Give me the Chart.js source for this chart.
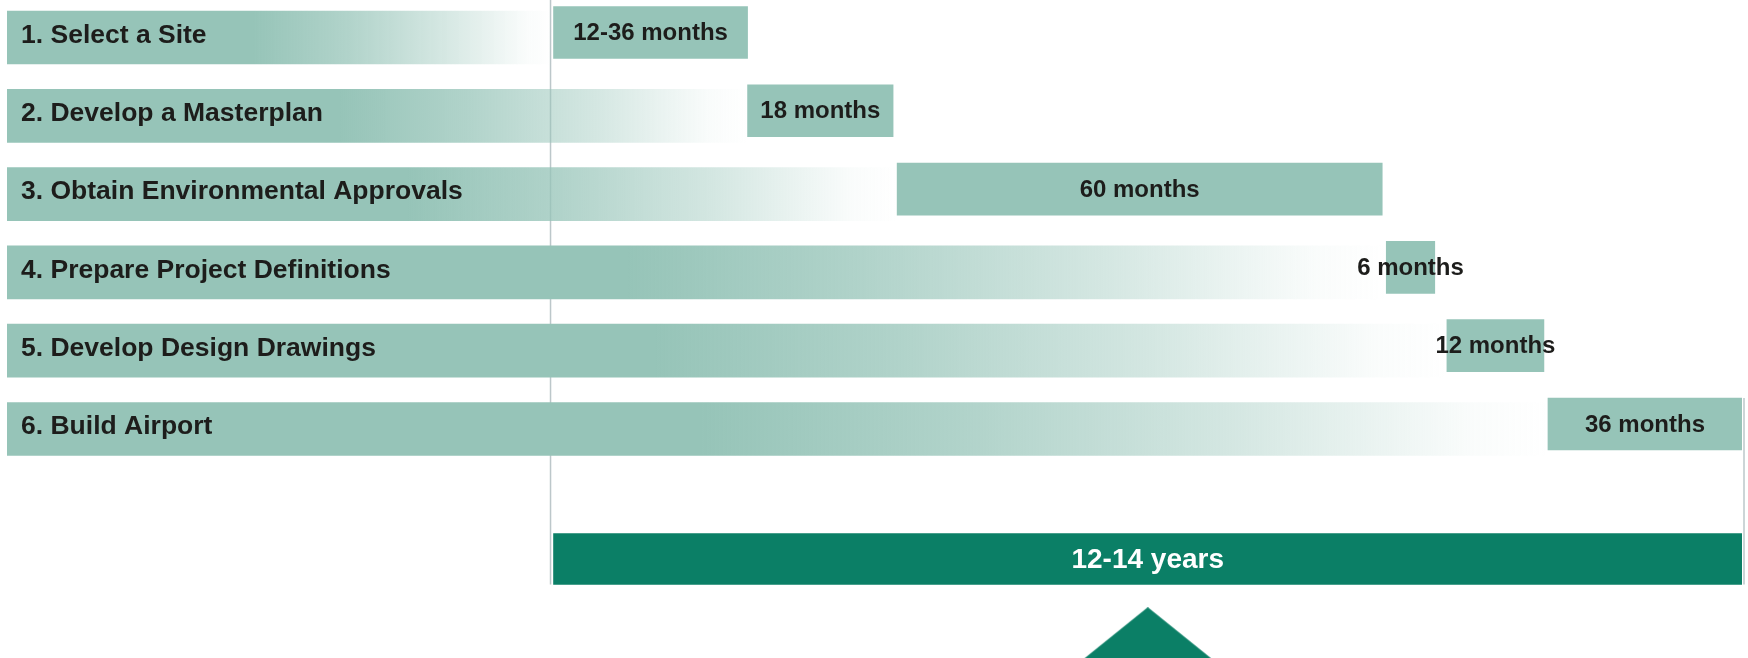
<!DOCTYPE html>
<html lang="en"><head>
<title>Airport Development Timeline</title>
<meta name="viewport" content="width=device-width, initial-scale=1.0">
<meta charset="utf-8">
<style type="text/css">
body     { margin:0; background-color:#ffffff; }
#display { width:1748px; height:658px; }
</style>
<script src="https://cdn.jsdelivr.net/npm/chart.js"></script>
<script>

// phases of the project and how long each one takes
const phases=['1. Select a Site','2. Develop a Masterplan','3. Obtain Environmental Approvals',
  '4. Prepare Project Definitions','5. Develop Design Drawings','6. Build Airport'];
const durationLabels=['12-36 months','18 months','60 months','6 months','12 months','36 months'];
const durationMonths=[24,18,60,6,12,36];           // 12-36 months drawn as 24
const startMonths=[0,24,42.5,103,110.5,123];
const totalLabel='12-14 years';
const totalMonths=156;                             // 13 years

// visible window (months) and row layout
const xStart=-67.6, xEnd=147;
const yMin=-0.479, yMax=7.925, boxLift=0.064, totalRow=6.66;

const light='#96c4b8', dark='#0b7f66', ink='#1d1d1b', rule='#bcc7ca';

function leadGradient(c) {
  const chart=c.chart;
  if (!chart.chartArea) { return light; }
  const x=chart.scales.x;
  const x0=x.getPixelForValue(xStart), x1=x.getPixelForValue(startMonths[c.dataIndex]);
  const g=chart.ctx.createLinearGradient(x0,0,x1,0);
  g.addColorStop(0,'rgba(150,196,184,1)');
  g.addColorStop(0.45,'rgba(150,196,184,1)');
  g.addColorStop(0.62,'rgba(150,196,184,0.75)');
  g.addColorStop(0.8,'rgba(150,196,184,0.4)');
  g.addColorStop(0.95,'rgba(150,196,184,0.05)');
  g.addColorStop(1,'rgba(150,196,184,0)');
  return g; }

function triangleImage() {
  const c=document.createElement('canvas'); c.width=248; c.height=100;
  const t=c.getContext('2d'); t.fillStyle=dark;
  t.beginPath(); t.moveTo(124,0); t.lineTo(248,100); t.lineTo(0,100); t.closePath(); t.fill();
  return c; }

// text inside the bars, centred on the visible part of each bar
const barText={id:'barText',afterDatasetsDraw(chart) {
  const ctx=chart.ctx, area=chart.chartArea;
  ctx.save(); ctx.textBaseline='middle';
  chart.data.datasets.forEach((ds,d)=>{
    if (!ds.texts) { return; }
    chart.getDatasetMeta(d).data.forEach((bar,i)=>{
      const p=bar.getProps(['x','y','base'],true);
      const l=Math.max(Math.min(p.x,p.base),area.left), r=Math.min(Math.max(p.x,p.base),area.right);
      ctx.font=ds.textFont; ctx.fillStyle=ds.textColor;
      if (ds.textLeft) { ctx.textAlign='left'; ctx.fillText(ds.texts[i],l+14,p.y-2); }
      else { ctx.textAlign='center'; ctx.fillText(ds.texts[i],(l+r)/2,p.y+1); } }); });
  ctx.restore(); }};

// thin rules marking the start and the end of the timeline
const timelineRules={id:'timelineRules',beforeDatasetsDraw(chart) {
  const ctx=chart.ctx, area=chart.chartArea;
  const total=chart.getDatasetMeta(2).data[0], last=chart.getDatasetMeta(1).data[phases.length-1];
  if (!total || !last) { return; }
  const bottom=total.y+total.height/2;
  const x0=chart.scales.x.getPixelForValue(0)-3;
  ctx.save(); ctx.strokeStyle=rule; ctx.lineWidth=1.5;
  ctx.beginPath(); ctx.moveTo(x0,area.top); ctx.lineTo(x0,bottom);
  ctx.moveTo(area.right+2,last.y-last.height/2); ctx.lineTo(area.right+2,bottom); ctx.stroke();
  ctx.restore(); }};

function displayChart() {
  const data={datasets:[{
    label:'Phase',
    data:phases.map((p,i)=>({x:[xStart,startMonths[i]],y:i})),
    yAxisID:'y',backgroundColor:leadGradient,barThickness:53,
    texts:phases,textFont:'bold 26.5px "Liberation Sans", Arial, sans-serif',textColor:ink,textLeft:true},{
    label:'Duration',
    data:phases.map((p,i)=>({x:[startMonths[i],startMonths[i]+durationMonths[i]],y:i})),
    yAxisID:'yb',backgroundColor:light,barThickness:52,
    texts:durationLabels,textFont:'bold 24px "Liberation Sans", Arial, sans-serif',textColor:ink},{
    label:'Total',
    data:[{x:[0,totalMonths],y:totalRow}],
    yAxisID:'y',backgroundColor:dark,barThickness:51,
    texts:[totalLabel],textFont:'bold 28px "Liberation Sans", Arial, sans-serif',textColor:'#ffffff'},{
    type:'scatter',label:'Marker',indexAxis:'x',
    data:[{x:xEnd/2,y:yMax-0.01}],
    yAxisID:'y',pointStyle:triangleImage(),clip:false}]};

  data.datasets.slice(0,3).forEach(ds=>{ ds.xAxisID='x'; ds.grouped=false; ds.clip=0; ds.borderWidth=0; });

  const config={type:'bar',data,plugins:[timelineRules,barText],options:{
    indexAxis:'y',responsive:false,animation:false,
    layout:{autoPadding:false,padding:{left:7,right:6,top:0,bottom:0}},
    plugins:{legend:{display:false},tooltip:{enabled:false}},
    scales:{
      x:{type:'linear',display:false,min:xStart,max:xEnd,offset:false},
      y:{type:'linear',display:false,reverse:true,min:yMin,max:yMax,offset:false},
      yb:{type:'linear',display:false,reverse:true,min:yMin+boxLift,max:yMax+boxLift,offset:false}}}};

  new Chart(document.getElementById('timeline'),config); }

</script></head>
<body onload="displayChart();">
<div id="display">
  <canvas id="timeline" width="1748" height="658"></canvas>
</div>
</body></html>
